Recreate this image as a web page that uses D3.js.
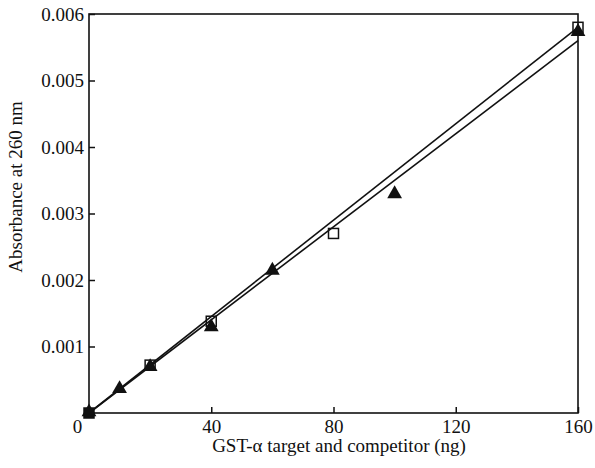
<!DOCTYPE html>
<html>
<head>
<meta charset="utf-8">
<script src="https://cdn.jsdelivr.net/npm/d3@7"></script>
<style>
body { margin: 0; background: #fff; }
svg text { font-family: "Liberation Serif", "Times New Roman", serif; fill: #111; }
</style>
</head>
<body>
<div id="chart"></div>
<script>
// open squares
var squareX = [0, 20, 40, 80, 160];
var squareY = [0, 0.00072, 0.00138, 0.0027, 0.0058];
// filled triangles
var triX = [0, 10, 20, 40, 60, 100, 160];
var triY = [0, 0.00035, 0.00068, 0.00128, 0.00213, 0.00328, 0.00572];
// fitted lines (end points)
var fitSquare = [[0, 0], [160, 0.0058]];
var fitTri = [[0, 0], [160, 0.0056]];

var xTicks = [0, 40, 80, 120, 160];
var yTicks = [0.001, 0.002, 0.003, 0.004, 0.005, 0.006];

var width = 595, height = 468;
var mLeft = 89, mRight = 578, mTop = 14, mBottom = 413;

var svg = d3.select('#chart').append('svg').attr('width', width).attr('height', height);

var x = d3.scaleLinear().domain([0, 160]).range([mLeft, mRight]);
var y = d3.scaleLinear().domain([0, 0.006]).range([mBottom, mTop]);

// frame
svg.append('rect')
    .attr('x', mLeft).attr('y', mTop)
    .attr('width', mRight - mLeft).attr('height', mBottom - mTop)
    .attr('fill', 'none').attr('stroke', '#111').attr('stroke-width', 1.6);

var xAxis = svg.append('g').attr('transform', `translate(0,${mBottom})`)
    .call(d3.axisTop(x).tickValues(xTicks).tickSize(6).tickFormat(d3.format('d')));
xAxis.selectAll('text').attr('y', 20).attr('dy', 0).style('font-size', '19px');
xAxis.selectAll('text').filter(d => d === 0).attr('dx', -12);

var yAxis = svg.append('g').attr('transform', `translate(${mLeft},0)`)
    .call(d3.axisRight(y).tickValues(yTicks).tickSize(6).tickFormat(d3.format('.3f')));
yAxis.selectAll('text').attr('x', -5).attr('text-anchor', 'end').style('font-size', '19px');

svg.selectAll('.domain').remove();
svg.selectAll('.tick line').attr('stroke', '#111').attr('stroke-width', 1.5);

// fitted lines
var line = d3.line().x(d => x(d[0])).y(d => y(d[1]));
[fitSquare, fitTri].forEach(function (f) {
    svg.append('path').attr('d', line(f))
        .attr('fill', 'none').attr('stroke', '#111').attr('stroke-width', 1.6);
});

// triangles
var triSym = d3.symbol().type(d3.symbolTriangle).size(95);
svg.selectAll('.tri').data(triX).enter().append('path')
    .attr('class', 'tri')
    .attr('d', triSym)
    .attr('transform', (d, i) => `translate(${x(d)},${y(triY[i]) - 1})`)
    .attr('fill', '#111');

// squares
svg.selectAll('.sq').data(squareX).enter().append('rect')
    .attr('class', 'sq')
    .attr('x', d => x(d) - 5)
    .attr('y', (d, i) => y(squareY[i]) - 5)
    .attr('width', 10).attr('height', 10)
    .attr('fill', (d, i) => i === 0 ? '#111' : '#fff')
    .attr('fill-opacity', (d, i) => i === 0 ? 1 : 0)
    .attr('stroke', '#111').attr('stroke-width', 1.5);

// axis titles
svg.append('text')
    .attr('x', 339).attr('y', 452)
    .attr('text-anchor', 'middle')
    .style('font-size', '19px')
    .text('GST-α target and competitor (ng)');

svg.append('text')
    .attr('transform', 'translate(22,187)rotate(-90)')
    .attr('text-anchor', 'middle')
    .style('font-size', '19px')
    .text('Absorbance at 260 nm');
</script>
</body>
</html>
